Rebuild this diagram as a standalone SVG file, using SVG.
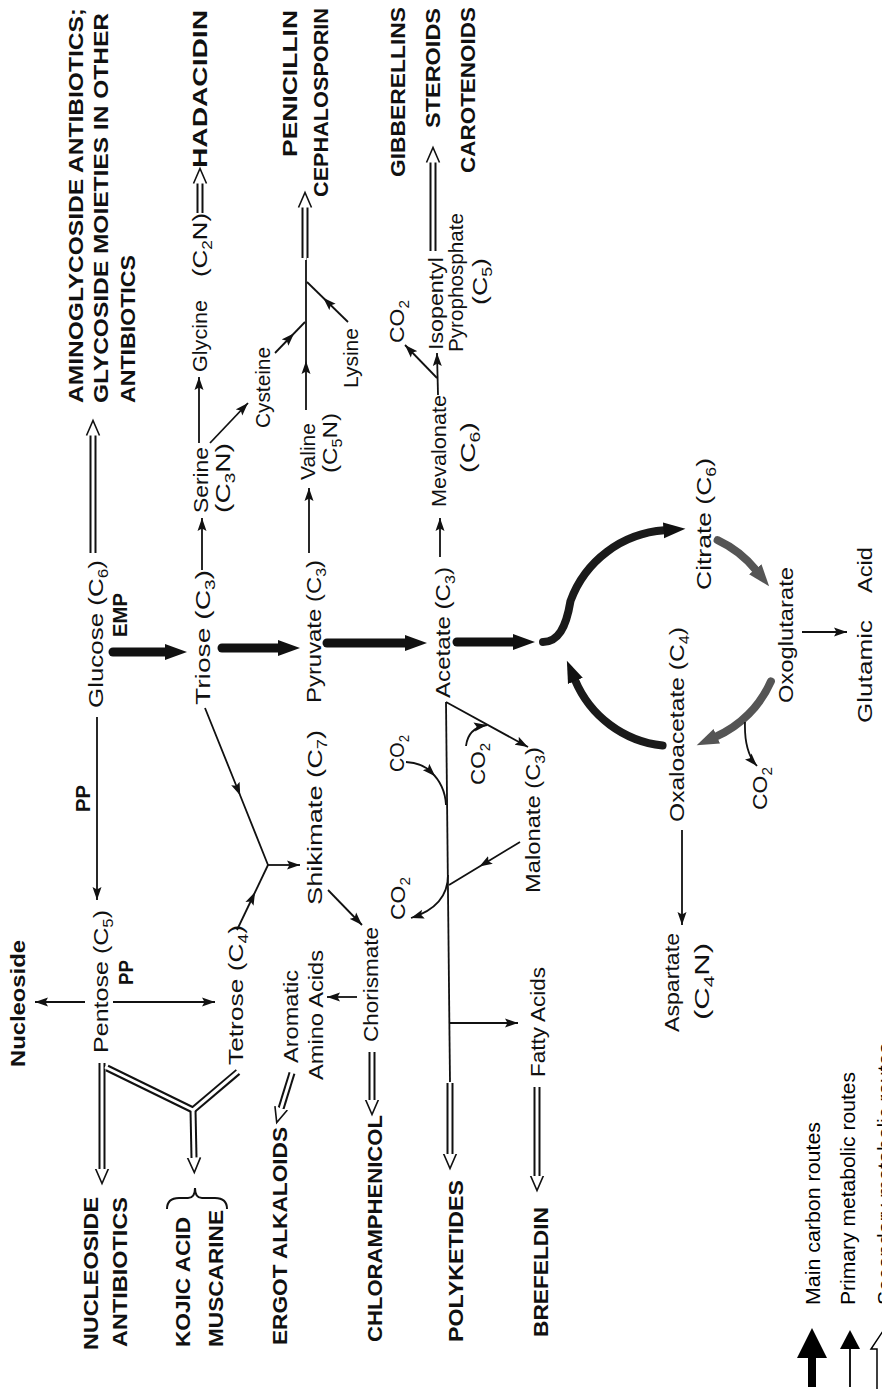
<svg xmlns="http://www.w3.org/2000/svg" width="882" height="1389" viewBox="0 0 882 1389">
<style>
.r{font-family:'Liberation Sans',Arial,sans-serif;font-size:21px;fill:#111}
.b{font-family:'Liberation Sans',Arial,sans-serif;font-size:21px;font-weight:bold;fill:#111}
.lg{font-family:'Liberation Sans',Arial,sans-serif;font-size:21px;fill:#000}
.sub{font-size:14px}
.p{stroke:#111;stroke-width:1.8;fill:none}
.m{stroke:#111;stroke-width:9;fill:none;stroke-linecap:round}
.cy{stroke:#1a1a1a;stroke-width:8;fill:none;stroke-linecap:round}
.cg{stroke:#555;stroke-width:8;fill:none;stroke-linecap:round}
.d1{stroke:#111;stroke-width:7;fill:none}
.d2{stroke:#fff;stroke-width:3;fill:none}
.br{stroke:#111;stroke-width:2;fill:none}
</style>
<defs>
<marker id="ah" markerUnits="userSpaceOnUse" markerWidth="14" markerHeight="10" refX="13" refY="5" orient="auto"><path d="M0,0.5 L13,5 L0,9.5 L2.5,5 Z" fill="#111"/></marker>
<marker id="am" markerUnits="userSpaceOnUse" markerWidth="14" markerHeight="10" refX="7" refY="5" orient="auto"><path d="M0,0.5 L13,5 L0,9.5 L2.5,5 Z" fill="#111"/></marker>
<marker id="mh" markerUnits="userSpaceOnUse" markerWidth="24" markerHeight="18" refX="1" refY="9" orient="auto"><path d="M0,1 L22,9 L0,17 Z" fill="#111"/></marker>
<marker id="mg" markerUnits="userSpaceOnUse" markerWidth="24" markerHeight="18" refX="1" refY="9" orient="auto"><path d="M0,1 L22,9 L0,17 Z" fill="#555"/></marker>
<marker id="hh" markerUnits="userSpaceOnUse" markerWidth="18" markerHeight="16" refX="0.5" refY="8" orient="auto"><path d="M0,1.5 L15,8 L0,14.5" fill="#fff" stroke="#111" stroke-width="1.6"/></marker>
</defs>
<rect width="882" height="1389" fill="#fff"/>

<g id="connectors">
<!-- main carbon routes -->
<path class="m" d="M113,652 L166,652" marker-end="url(#mh)"/>
<path class="m" d="M222,648 L279,648" marker-end="url(#mh)"/>
<path class="m" d="M327,643 L406,643" marker-end="url(#mh)"/>
<path class="m" d="M457,642 L514,642" marker-end="url(#mh)"/>
<!-- TCA cycle -->
<path class="cy" d="M543,642 C558,642 566,628 570.5,601 A108,108 0 0 1 664.5,530.3" marker-end="url(#mh)"/>
<path class="cg" d="M717.6,540.1 A108,108 0 0 1 755.9,570" marker-end="url(#mg)"/>
<path class="cg" d="M770.9,681.4 A108,108 0 0 1 715.9,736.7" marker-end="url(#mg)"/>
<path class="cy" d="M662.6,745.6 A108,108 0 0 1 575,680" marker-end="url(#mh)"/>
<!-- primary metabolic routes -->
<path class="p" d="M97,717 L97,900" marker-end="url(#ah)"/>
<path class="p" d="M85,1002 L35,1002" marker-end="url(#ah)"/>
<path class="p" d="M113,1002 L215,1002" marker-end="url(#ah)"/>
<path class="p" d="M205,708 L238,790 L268,865" marker-mid="url(#am)"/>
<path class="p" d="M237,930 L252.5,897.5 L268,865" marker-mid="url(#am)"/>
<path class="p" d="M268,865 L300,865" marker-end="url(#ah)"/>
<path class="p" d="M328,890 L362,925" marker-end="url(#ah)"/>
<path class="p" d="M357,997 L327,997" marker-end="url(#ah)"/>
<path class="p" d="M202,570 L202,518" marker-end="url(#ah)"/>
<path class="p" d="M199,443 L199,377" marker-end="url(#ah)"/>
<path class="p" d="M210,443 L248,403" marker-end="url(#ah)"/>
<path class="p" d="M309,553 L309,488" marker-end="url(#ah)"/>
<path class="p" d="M306,410 L306,367 L306,258" marker-mid="url(#am)"/>
<path class="p" d="M275,353 L290,337.5 L305,322" marker-mid="url(#am)"/>
<path class="p" d="M348,322 L327.5,302 L307,282" marker-mid="url(#am)"/>
<path class="p" d="M440,557 L440,518" marker-end="url(#ah)"/>
<path class="p" d="M438,395 L437,353" marker-end="url(#ah)"/>
<path class="p" d="M437,378 L405,345" marker-end="url(#ah)"/>
<path class="p" d="M446,702 L528,747" marker-end="url(#ah)"/>
<path class="p" d="M446,702 L450,1083"/>
<path class="p" d="M406,762 Q423,763 431,772 Q445,785 446,805" marker-mid="url(#am)"/>
<path class="p" d="M448,875 C448,900 430,912 411,918" marker-end="url(#ah)"/>
<path class="p" d="M466,746 Q468,728 487,725" marker-end="url(#ah)"/>
<path class="p" d="M520,842 L484.5,863.5 L449,885" marker-mid="url(#am)"/>
<path class="p" d="M450,1023 L518,1023" marker-end="url(#ah)"/>
<path class="p" d="M802,632 L847,632" marker-end="url(#ah)"/>
<path class="p" d="M682,830 L682,925" marker-end="url(#ah)"/>
<path class="p" d="M745,722 Q744,752 757,766" marker-end="url(#ah)"/>
<!-- secondary metabolic routes (double) -->
<path class="d1" d="M93,553 L93,435"/>
<path class="d1" d="M200,213 L200,183"/>
<path class="d1" d="M305,258 L305,207"/>
<path class="d1" d="M433,251 L433,162"/>
<path class="d1" d="M102,1063 L102,1169"/>
<path class="d1" d="M107,1068 L193,1110"/>
<path class="d1" d="M238,1072 L193,1110"/>
<path class="d1" d="M193,1110 L194,1158"/>
<path class="d1" d="M292,1073 L281,1108.6"/>
<path class="d1" d="M372,1052 L372,1100"/>
<path class="d1" d="M450,1083 L450,1154"/>
<path class="d1" d="M537,1087 L537,1176"/>
<path class="d2" d="M93,555 L93,435" marker-end="url(#hh)"/>
<path class="d2" d="M200,215 L200,183" marker-end="url(#hh)"/>
<path class="d2" d="M305,260 L305,207" marker-end="url(#hh)"/>
<path class="d2" d="M433,253 L433,162" marker-end="url(#hh)"/>
<path class="d2" d="M102,1061 L102,1169" marker-end="url(#hh)"/>
<path class="d2" d="M105,1067 L193,1110"/>
<path class="d2" d="M240,1070 L193,1110"/>
<path class="d2" d="M193,1110 L194,1158" marker-end="url(#hh)"/>
<path class="d2" d="M292.6,1071 L281,1108.6" marker-end="url(#hh)"/>
<path class="d2" d="M372,1050 L372,1100" marker-end="url(#hh)"/>
<path class="d2" d="M450,1082 L450,1154" marker-end="url(#hh)"/>
<path class="d2" d="M537,1085 L537,1176" marker-end="url(#hh)"/>
</g>

<g id="n-aminoglycoside">
<text class="b" x="83" y="403" transform="rotate(-90 83 403)" textLength="395" lengthAdjust="spacingAndGlyphs">AMINOGLYCOSIDE ANTIBIOTICS;</text>
<text class="b" x="108" y="403" transform="rotate(-90 108 403)" textLength="390" lengthAdjust="spacingAndGlyphs">GLYCOSIDE MOIETIES IN OTHER</text>
<text class="b" x="135" y="403" transform="rotate(-90 135 403)" textLength="148" lengthAdjust="spacingAndGlyphs">ANTIBIOTICS</text>
</g>
<g id="n-glucose">
<text class="r" x="103" y="708" transform="rotate(-90 103 708)" textLength="148" lengthAdjust="spacingAndGlyphs">Glucose (C<tspan class="sub" dy="5">6</tspan><tspan dy="-5">)</tspan></text>
<text class="b" x="127" y="637" transform="rotate(-90 127 637)" textLength="44" lengthAdjust="spacingAndGlyphs">EMP</text>
</g>
<g id="l-pp-glucose">
<text class="b" x="90" y="812" transform="rotate(-90 90 812)" textLength="27" lengthAdjust="spacingAndGlyphs">PP</text>
</g>
<g id="n-pentose">
<text class="r" x="108" y="1053" transform="rotate(-90 108 1053)" textLength="143" lengthAdjust="spacingAndGlyphs">Pentose (C<tspan class="sub" dy="5">5</tspan><tspan dy="-5">)</tspan></text>
<text class="b" x="133" y="985" transform="rotate(-90 133 985)" textLength="25" lengthAdjust="spacingAndGlyphs">PP</text>
</g>
<g id="n-nucleoside">
<text class="b" x="25" y="1067" transform="rotate(-90 25 1067)" textLength="127" lengthAdjust="spacingAndGlyphs">Nucleoside</text>
</g>
<g id="n-nucleoside-antibiotics">
<text class="b" x="98" y="1350" transform="rotate(-90 98 1350)" textLength="153" lengthAdjust="spacingAndGlyphs">NUCLEOSIDE</text>
<text class="b" x="127" y="1347" transform="rotate(-90 127 1347)" textLength="150" lengthAdjust="spacingAndGlyphs">ANTIBIOTICS</text>
</g>
<g id="n-kojic-muscarine">
<text class="b" x="190" y="1347" transform="rotate(-90 190 1347)" textLength="130" lengthAdjust="spacingAndGlyphs">KOJIC ACID</text>
<text class="b" x="223" y="1347" transform="rotate(-90 223 1347)" textLength="137" lengthAdjust="spacingAndGlyphs">MUSCARINE</text>
<path class="br" d="M167,1209 Q167,1198 179,1198 L188,1198 Q195,1198 195,1188 Q195,1198 202,1198 L215,1198 Q227,1198 227,1209"/>
</g>
<g id="n-tetrose">
<text class="r" x="243" y="1065" transform="rotate(-90 243 1065)" textLength="140" lengthAdjust="spacingAndGlyphs">Tetrose (C<tspan class="sub" dy="5">4</tspan><tspan dy="-5">)</tspan></text>
</g>
<g id="n-triose">
<text class="r" x="210" y="705" transform="rotate(-90 210 705)" textLength="135" lengthAdjust="spacingAndGlyphs">Triose (C<tspan class="sub" dy="5">3</tspan><tspan dy="-5">)</tspan></text>
</g>
<g id="n-serine">
<text class="r" x="208" y="513" transform="rotate(-90 208 513)" textLength="66" lengthAdjust="spacingAndGlyphs">Serine</text>
<text class="r" x="230" y="513" transform="rotate(-90 230 513)" textLength="70" lengthAdjust="spacingAndGlyphs">(C<tspan class="sub" dy="5">3</tspan><tspan dy="-5">N)</tspan></text>
</g>
<g id="n-glycine">
<text class="r" x="207" y="372" transform="rotate(-90 207 372)" textLength="72" lengthAdjust="spacingAndGlyphs">Glycine</text>
<text class="r" x="207" y="277" transform="rotate(-90 207 277)" textLength="64" lengthAdjust="spacingAndGlyphs">(C<tspan class="sub" dy="5">2</tspan><tspan dy="-5">N)</tspan></text>
</g>
<g id="n-hadacidin">
<text class="b" x="207" y="168" transform="rotate(-90 207 168)" textLength="158" lengthAdjust="spacingAndGlyphs">HADACIDIN</text>
</g>
<g id="n-cysteine">
<text class="r" x="270" y="428" transform="rotate(-90 270 428)" textLength="81" lengthAdjust="spacingAndGlyphs">Cysteine</text>
</g>
<g id="n-valine">
<text class="r" x="315" y="480" transform="rotate(-90 315 480)" textLength="57" lengthAdjust="spacingAndGlyphs">Valine</text>
<text class="r" x="337" y="473" transform="rotate(-90 337 473)" textLength="60" lengthAdjust="spacingAndGlyphs">(C<tspan class="sub" dy="5">5</tspan><tspan dy="-5">N)</tspan></text>
</g>
<g id="n-lysine">
<text class="r" x="358" y="388" transform="rotate(-90 358 388)" textLength="60" lengthAdjust="spacingAndGlyphs">Lysine</text>
</g>
<g id="n-penicillin">
<text class="b" x="297" y="157" transform="rotate(-90 297 157)" textLength="147" lengthAdjust="spacingAndGlyphs">PENICILLIN</text>
<text class="b" x="328" y="197" transform="rotate(-90 328 197)" textLength="189" lengthAdjust="spacingAndGlyphs">CEPHALOSPORIN</text>
</g>
<g id="n-pyruvate">
<text class="r" x="321" y="703" transform="rotate(-90 321 703)" textLength="143" lengthAdjust="spacingAndGlyphs">Pyruvate (C<tspan class="sub" dy="5">3</tspan><tspan dy="-5">)</tspan></text>
</g>
<g id="n-shikimate">
<text class="r" x="322" y="905" transform="rotate(-90 322 905)" textLength="175" lengthAdjust="spacingAndGlyphs">Shikimate (C<tspan class="sub" dy="5">7</tspan><tspan dy="-5">)</tspan></text>
</g>
<g id="n-aromatic">
<text class="r" x="298" y="1063" transform="rotate(-90 298 1063)" textLength="93" lengthAdjust="spacingAndGlyphs">Aromatic</text>
<text class="r" x="323" y="1080" transform="rotate(-90 323 1080)" textLength="130" lengthAdjust="spacingAndGlyphs">Amino Acids</text>
</g>
<g id="n-ergot">
<text class="b" x="287" y="1345" transform="rotate(-90 287 1345)" textLength="218" lengthAdjust="spacingAndGlyphs">ERGOT ALKALOIDS</text>
</g>
<g id="n-chorismate">
<text class="r" x="378" y="1042" transform="rotate(-90 378 1042)" textLength="115" lengthAdjust="spacingAndGlyphs">Chorismate</text>
</g>
<g id="n-chloramphenicol">
<text class="b" x="382" y="1342" transform="rotate(-90 382 1342)" textLength="227" lengthAdjust="spacingAndGlyphs">CHLORAMPHENICOL</text>
</g>
<g id="n-acetate">
<text class="r" x="450" y="698" transform="rotate(-90 450 698)" textLength="131" lengthAdjust="spacingAndGlyphs">Acetate (C<tspan class="sub" dy="5">3</tspan><tspan dy="-5">)</tspan></text>
</g>
<g id="n-mevalonate">
<text class="r" x="446" y="507" transform="rotate(-90 446 507)" textLength="112" lengthAdjust="spacingAndGlyphs">Mevalonate</text>
<text class="r" x="475" y="473" transform="rotate(-90 475 473)" textLength="51" lengthAdjust="spacingAndGlyphs">(C<tspan class="sub" dy="5">6</tspan><tspan dy="-5">)</tspan></text>
</g>
<g id="n-co2-mevalonate">
<text class="r" x="404" y="343" transform="rotate(-90 404 343)" textLength="43" lengthAdjust="spacingAndGlyphs">CO<tspan class="sub" dy="5">2</tspan></text>
</g>
<g id="n-isopentyl">
<text class="r" x="443" y="350" transform="rotate(-90 443 350)" textLength="93" lengthAdjust="spacingAndGlyphs">Isopentyl</text>
<text class="r" x="463" y="352" transform="rotate(-90 463 352)" textLength="139" lengthAdjust="spacingAndGlyphs">Pyrophosphate</text>
<text class="r" x="487" y="305" transform="rotate(-90 487 305)" textLength="47" lengthAdjust="spacingAndGlyphs">(C<tspan class="sub" dy="5">5</tspan><tspan dy="-5">)</tspan></text>
</g>
<g id="n-terpenoids">
<text class="b" x="405" y="177" transform="rotate(-90 405 177)" textLength="170" lengthAdjust="spacingAndGlyphs">GIBBERELLINS</text>
<text class="b" x="440" y="128" transform="rotate(-90 440 128)" textLength="120" lengthAdjust="spacingAndGlyphs">STEROIDS</text>
<text class="b" x="475" y="173" transform="rotate(-90 475 173)" textLength="166" lengthAdjust="spacingAndGlyphs">CAROTENOIDS</text>
</g>
<g id="n-co2-a">
<text class="r" x="404" y="772" transform="rotate(-90 404 772)" textLength="37" lengthAdjust="spacingAndGlyphs">CO<tspan class="sub" dy="5">2</tspan></text>
</g>
<g id="n-co2-b">
<text class="r" x="405" y="920" transform="rotate(-90 405 920)" textLength="43" lengthAdjust="spacingAndGlyphs">CO<tspan class="sub" dy="5">2</tspan></text>
</g>
<g id="n-co2-c">
<text class="r" x="485" y="785" transform="rotate(-90 485 785)" textLength="42" lengthAdjust="spacingAndGlyphs">CO<tspan class="sub" dy="5">2</tspan></text>
</g>
<g id="n-malonate">
<text class="r" x="540" y="893" transform="rotate(-90 540 893)" textLength="146" lengthAdjust="spacingAndGlyphs">Malonate (C<tspan class="sub" dy="5">3</tspan><tspan dy="-5">)</tspan></text>
</g>
<g id="n-polyketides">
<text class="b" x="463" y="1342" transform="rotate(-90 463 1342)" textLength="162" lengthAdjust="spacingAndGlyphs">POLYKETIDES</text>
</g>
<g id="n-fatty-acids">
<text class="r" x="545" y="1077" transform="rotate(-90 545 1077)" textLength="110" lengthAdjust="spacingAndGlyphs">Fatty Acids</text>
</g>
<g id="n-brefeldin">
<text class="b" x="548" y="1337" transform="rotate(-90 548 1337)" textLength="130" lengthAdjust="spacingAndGlyphs">BREFELDIN</text>
</g>
<g id="n-citrate">
<text class="r" x="711" y="590" transform="rotate(-90 711 590)" textLength="132" lengthAdjust="spacingAndGlyphs">Citrate (C<tspan class="sub" dy="5">6</tspan><tspan dy="-5">)</tspan></text>
</g>
<g id="n-oxoglutarate">
<text class="r" x="793" y="703" transform="rotate(-90 793 703)" textLength="136" lengthAdjust="spacingAndGlyphs">Oxoglutarate</text>
</g>
<g id="n-glutamic">
<text class="r" x="872" y="723" transform="rotate(-90 872 723)"><tspan textLength="103" lengthAdjust="spacingAndGlyphs">Glutamic</tspan><tspan x="1002" textLength="46" lengthAdjust="spacingAndGlyphs">Acid</tspan></text>
</g>
<g id="n-oxaloacetate">
<text class="r" x="684" y="822" transform="rotate(-90 684 822)" textLength="195" lengthAdjust="spacingAndGlyphs">Oxaloacetate (C<tspan class="sub" dy="5">4</tspan><tspan dy="-5">)</tspan></text>
</g>
<g id="n-co2-d">
<text class="r" x="767" y="810" transform="rotate(-90 767 810)" textLength="43" lengthAdjust="spacingAndGlyphs">CO<tspan class="sub" dy="5">2</tspan></text>
</g>
<g id="n-aspartate">
<text class="r" x="679" y="1032" transform="rotate(-90 679 1032)" textLength="99" lengthAdjust="spacingAndGlyphs">Aspartate</text>
<text class="r" x="709" y="1020" transform="rotate(-90 709 1020)" textLength="77" lengthAdjust="spacingAndGlyphs">(C<tspan class="sub" dy="5">4</tspan><tspan dy="-5">N)</tspan></text>
</g>

<g id="legend">
<polygon points="812,1328 797,1358 808,1358 808,1387 816,1387 816,1358 827,1358" fill="#000"/>
<text class="lg" x="820" y="1305" transform="rotate(-90 820 1305)" textLength="183" lengthAdjust="spacingAndGlyphs">Main carbon routes</text>
<polygon points="850,1330 840,1349 860,1349" fill="#000"/>
<line x1="850" y1="1347" x2="850" y2="1387" stroke="#000" stroke-width="1.8"/>
<text class="lg" x="855" y="1305" transform="rotate(-90 855 1305)" textLength="233" lengthAdjust="spacingAndGlyphs">Primary metabolic routes</text>
<polygon points="887,1325 871,1349 877,1349 877,1392 897,1392 897,1349 903,1349" fill="none" stroke="#000" stroke-width="1.5"/>
<text class="lg" x="892" y="1305" transform="rotate(-90 892 1305)" textLength="262" lengthAdjust="spacingAndGlyphs">Secondary metabolic routes</text>
</g>
</svg>
